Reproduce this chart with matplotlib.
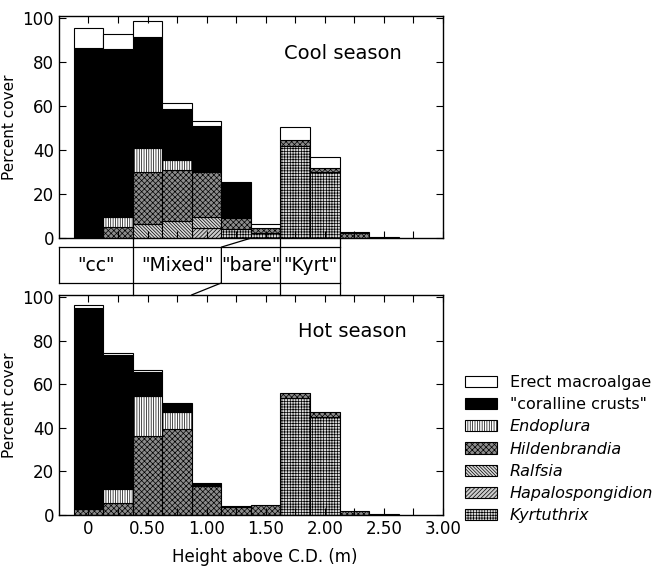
import matplotlib
matplotlib.use('Agg')
import matplotlib.pyplot as plt
from matplotlib.patches import Patch
import numpy as np

plt.rcParams['hatch.linewidth'] = 0.5

heights = [0, 0.25, 0.5, 0.75, 1.0, 1.25, 1.5, 1.75, 2.0, 2.25, 2.5]

# cool season, % cover per height class
cool_kyrt = [0, 0, 0, 0, 0, 4, 2.4, 42, 30, 0, 0]
cool_hapalo = [0, 0, 0, 0, 4.4, 0, 0, 0, 0, 0, 0]
cool_ralfsia = [0, 0, 6.6, 7.8, 5.2, 0, 0, 0, 0, 0, 0]
cool_hild = [0, 5, 23.4, 23.3, 20.4, 5, 2.4, 2.6, 2, 2.2, 0.6]
cool_endo = [0, 4.6, 11, 4.2, 0, 0, 0, 0, 0, 0, 0]
cool_coral = [86.6, 76.2, 50.4, 23.4, 21.1, 16.5, 0, 0, 0, 0, 0]
cool_erect = [9, 6.8, 7.2, 2.5, 2.3, 0, 1.4, 6.1, 4.8, 0.8, 0]

# hot season
hot_kyrt = [0, 0, 0, 0, 0, 0, 0, 53.8, 45, 0, 0]
hot_hapalo = [0] * 11
hot_ralfsia = [0] * 11
hot_hild = [2.5, 5.5, 36.4, 39.4, 13.3, 3.5, 4.3, 2, 2, 1.8, 0.3]
hot_endo = [0, 6.5, 18.1, 8, 0, 0, 0, 0, 0, 0, 0]
hot_coral = [92.5, 61.2, 11, 3.8, 1.5, 0.7, 0, 0, 0, 0, 0]
hot_erect = [1.2, 1, 1.2, 0, 0, 0, 0, 0, 0, 0, 0]

legend_names = ['Erect macroalgae', '"coralline crusts"', 'Endoplura',
                'Hildenbrandia', 'Ralfsia', 'Hapalospongidion', 'Kyrtuthrix']

zone_names = ['"cc"', '"Mixed"', '"bare"', '"Kyrt"']
zone_edges_cool = [-0.25, 0.375, 1.375, 1.625, 2.125]
zone_edges_hot = [-0.25, 0.375, 0.875, 1.625, 2.125]
zone_edges_mid = [-0.25, 0.375, 1.125, 1.625, 2.125]

xtick_labels = ['0', '0.50', '1.00', '1.50', '2.00', '2.50', '3.00']

# styles, bottom of stack first
styles = [
    dict(facecolor='0.85', hatch='++++++'),   # Kyrtuthrix
    dict(facecolor='0.8', hatch='////////'),     # Hapalospongidion
    dict(facecolor='0.85', hatch='\\' * 10),  # Ralfsia
    dict(facecolor='0.55', hatch='xxxxxx'),    # Hildenbrandia
    dict(facecolor='white', hatch='|||||||'),  # Endoplura
    dict(facecolor='black', hatch=None),      # coralline crusts
    dict(facecolor='white', hatch=None),      # Erect macroalgae
]


def draw_stack(ax, series):
    bottom = np.zeros(len(heights))
    for vals, st in zip(series, styles):
        vals = np.array(vals, dtype=float)
        keep = vals > 0
        ax.bar(np.array(heights)[keep], vals[keep], width=0.25,
               bottom=bottom[keep], edgecolor='black', linewidth=0.8,
               **st)
        bottom += vals


def style_axes(ax, labels):
    ax.set_xlim(-0.25, 3.0)
    ax.set_ylim(0, 101)
    ax.set_yticks([0, 20, 40, 60, 80, 100])
    ax.set_xticks(np.arange(0, 3.01, 0.25))
    if labels:
        lab = []
        for i in range(13):
            lab.append(xtick_labels[i // 2] if i % 2 == 0 else '')
        ax.set_xticklabels(lab)
    else:
        ax.set_xticklabels([])
    ax.tick_params(direction='in', top=True, right=True, length=5,
                   width=0.8, labelsize=12)
    for s in ax.spines.values():
        s.set_linewidth(1.0)
    ax.set_ylabel('Percent cover', fontsize=11)


fig = plt.figure(figsize=(6.7, 5.67), dpi=100)
ax1 = fig.add_axes([0.088, 0.580, 0.573, 0.392])
ax2 = fig.add_axes([0.088, 0.092, 0.573, 0.388])
axm = fig.add_axes([0.088, 0.480, 0.573, 0.100])

draw_stack(ax1, [cool_kyrt, cool_hapalo, cool_ralfsia, cool_hild,
                 cool_endo, cool_coral, cool_erect])
draw_stack(ax2, [hot_kyrt, hot_hapalo, hot_ralfsia, hot_hild,
                 hot_endo, hot_coral, hot_erect])
style_axes(ax1, False)
style_axes(ax2, True)
ax2.set_xlabel('Height above C.D. (m)', fontsize=12)
ax2.xaxis.set_label_coords(0.536, -0.15)

ax1.text(2.15, 84, 'Cool season', fontsize=14, ha='center', va='center')
ax2.text(2.23, 84, 'Hot season', fontsize=14, ha='center', va='center')

# zone band between the panels
axm.set_xlim(-0.25, 3.0)
axm.set_ylim(0, 1)
axm.axis('off')
ytop, ybot = 0.842, 0.21
lk = dict(color='black', linewidth=0.9, clip_on=False)
axm.plot([zone_edges_mid[0], zone_edges_mid[-1]], [ytop, ytop], **lk)
axm.plot([zone_edges_mid[0], zone_edges_mid[-1]], [ybot, ybot], **lk)
for i in range(len(zone_edges_mid)):
    xc, xm, xh = zone_edges_cool[i], zone_edges_mid[i], zone_edges_hot[i]
    if i == 0:
        axm.plot([xm, xm], [ybot, ytop], **lk)
        continue
    axm.plot([xc, xm, xm, xh], [1, ytop, ybot, 0], **lk)
for i, name in enumerate(zone_names):
    xc = (zone_edges_mid[i] + zone_edges_mid[i + 1]) / 2
    axm.text(xc, (ytop + ybot) / 2, name, fontsize=13.5, ha='center',
             va='center')

handles = [Patch(edgecolor='black', linewidth=0.8, **st)
           for st in styles[::-1]]
leg = fig.legend(handles, legend_names, loc='upper left',
                 bbox_to_anchor=(0.685, 0.35), frameon=False, fontsize=11.5,
                 handlelength=2.0, handleheight=0.7, labelspacing=0.45,
                 handletextpad=0.8, borderaxespad=0)
for t in leg.get_texts()[2:]:
    t.set_style('italic')

fig.savefig('out.png', dpi=100)
